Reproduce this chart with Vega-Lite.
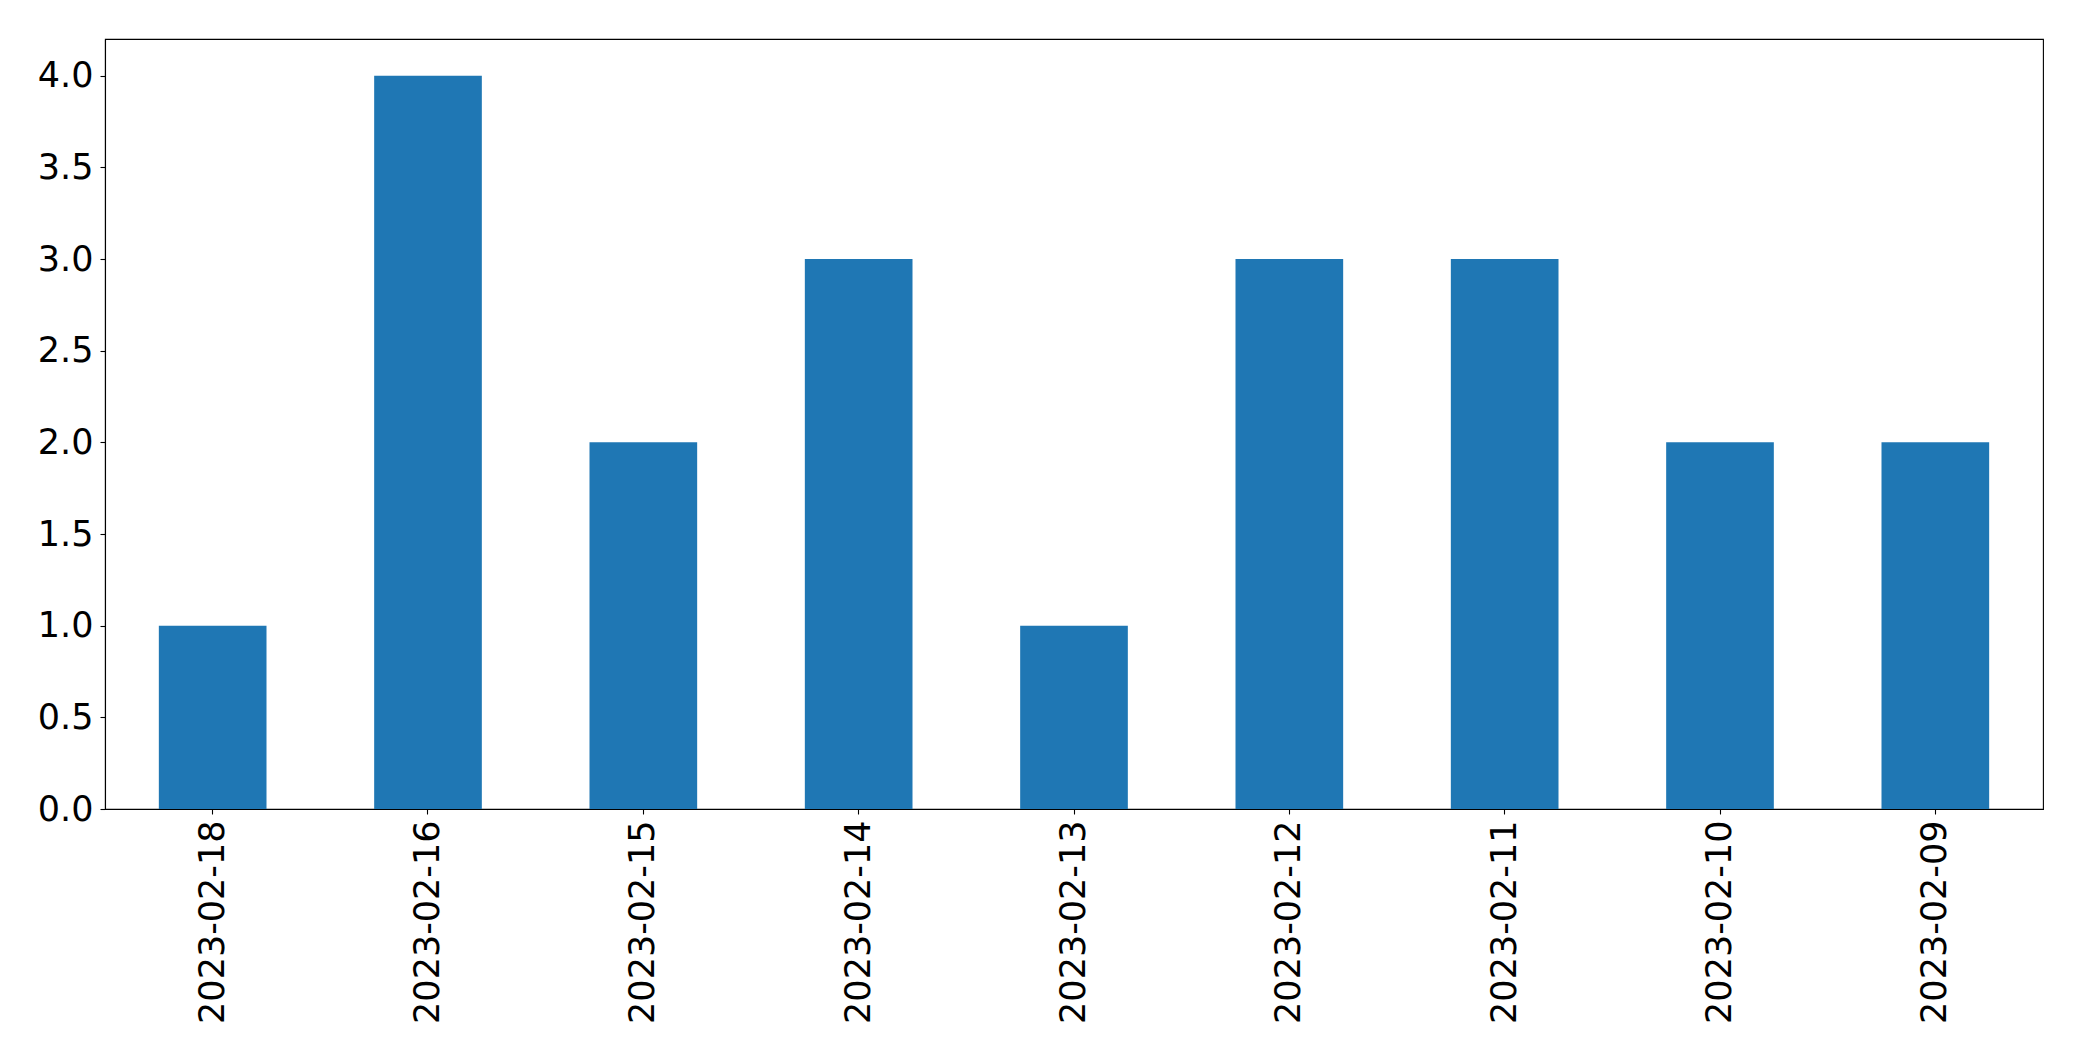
{
  "$schema": "https://vega.github.io/schema/vega-lite/v6.json",
  "width": 1938,
  "height": 770,
  "autosize": {"type": "none"},
  "padding": {"left": 105, "top": 39, "right": 39, "bottom": 252},
  "background": "white",
  "config": {
    "view": {"stroke": "black", "strokeWidth": 1.1},
    "axis": {"grid": false, "domainColor": "black", "domainWidth": 1.1, "tickColor": "black", "tickWidth": 1.1, "tickSize": 5, "labelColor": "black", "labelFont": "DejaVu Sans", "labelFontSize": 35, "labelLimit": 0, "title": null}
  },
  "data": {"values": [
    {"date": "2023-02-18", "count": 1},
    {"date": "2023-02-16", "count": 4},
    {"date": "2023-02-15", "count": 2},
    {"date": "2023-02-14", "count": 3},
    {"date": "2023-02-13", "count": 1},
    {"date": "2023-02-12", "count": 3},
    {"date": "2023-02-11", "count": 3},
    {"date": "2023-02-10", "count": 2},
    {"date": "2023-02-09", "count": 2}
  ]},
  "mark": {"type": "bar", "color": "#1f77b4"},
  "encoding": {
    "x": {"field": "date", "type": "nominal", "sort": null, "scale": {"paddingInner": 0.5, "paddingOuter": 0.25}, "axis": {"labelAngle": -90, "labelPadding": 6}},
    "y": {"field": "count", "type": "quantitative", "scale": {"domain": [0, 4.2], "nice": false}, "axis": {"values": [0, 0.5, 1, 1.5, 2, 2.5, 3, 3.5, 4], "format": ".1f", "labelPadding": 7}}
  }
}
